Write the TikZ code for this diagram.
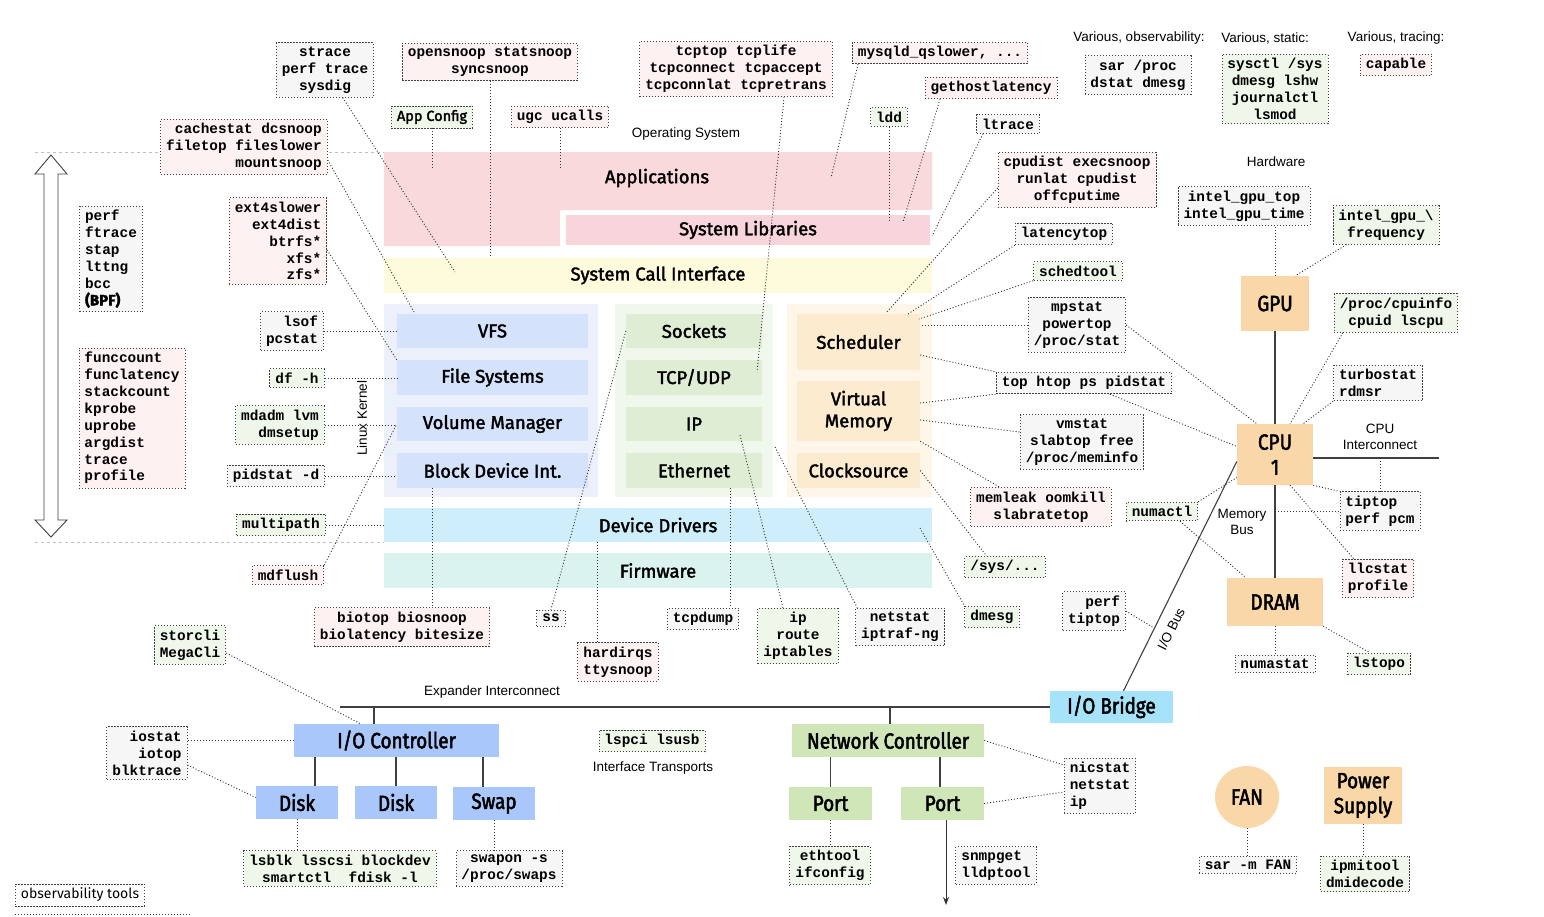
\documentclass[tikz,border=0pt]{standalone}
\usepackage{fontspec}
\setmainfont{Liberation Sans}
\newfontfamily\monofont{Liberation Mono}
\newfontfamily\lblfont[FakeBold=2]{Fira Sans}
\newfontfamily\hwfont[FakeStretch=0.86,FakeBold=2.2]{Fira Sans}
\usetikzlibrary{shapes.geometric,arrows.meta}
\definecolor{appsc}{HTML}{FAD9DC}
\definecolor{libc}{HTML}{F8D5DA}
\definecolor{sysc}{HTML}{FEFADC}
\definecolor{kpan}{HTML}{EBF0FB}
\definecolor{kbox}{HTML}{D4E2FB}
\definecolor{npan}{HTML}{F0F7EC}
\definecolor{nbox}{HTML}{E0EDD5}
\definecolor{spanc}{HTML}{FEF7E9}
\definecolor{sbox}{HTML}{FCEBCF}
\definecolor{drvc}{HTML}{CFEEFB}
\definecolor{fwc}{HTML}{DAF3EF}
\definecolor{hwc}{HTML}{FAD7A8}
\definecolor{bridgec}{HTML}{A6E3FB}
\definecolor{ioc}{HTML}{A9C7FA}
\definecolor{netc}{HTML}{D1E6B8}
\definecolor{tgray}{HTML}{F6F6F6}
\definecolor{tpink}{HTML}{FDF1F1}
\definecolor{tgreen}{HTML}{EEF7EA}
\tikzset{
  tool/.style={draw=black!75, dash pattern=on 1.1pt off 1.9pt, line width=0.9pt,
    inner xsep=5.5pt, inner ysep=4pt, align=center,
    font=\monofont\bfseries\fontsize{14.4}{16.9}\selectfont},
  tg/.style={tool, fill=tgray},
  tp/.style={tool, fill=tpink},
  tgr/.style={tool, fill=tgreen},
  conn/.style={draw=black!80, dash pattern=on 1pt off 2pt, line width=0.9pt},
  layer/.style={inner sep=0pt, align=center, font=\lblfont\fontsize{18.5}{22}\selectfont},
  hwbox/.style={inner sep=0pt, align=center, font=\hwfont\fontsize{22}{25}\selectfont},
  bus/.style={draw=black!75, line width=1.3pt},
  note/.style={align=center, font=\fontsize{13.5}{15.5}\selectfont}
}
\begin{document}
\begin{tikzpicture}[x=1pt,y=-1pt]
\useasboundingbox (0,0) rectangle (1544,916);
\fill[white] (0,0) rectangle (1544,916);

% dashed guide lines and big arrow
\draw[black!25, dashed, line width=0.8pt] (35,152) -- (384,152);
\draw[black!25, dashed, line width=0.8pt] (35,542) -- (384,542);
\draw[black!75, fill=white, line width=0.9pt] (51,155) -- (67,174) -- (58,174) -- (58,520) -- (67,520) -- (51,537) -- (35,520) -- (44,520) -- (44,174) -- (35,174) -- cycle;

% operating system layers
\fill[appsc] (384,152) -- (932,152) -- (932,210) -- (560,210) -- (560,246) -- (384,246) -- cycle;
\node[layer] (apps) at (657,178) {Applications};
\node[layer, fill=libc, minimum width=364pt, minimum height=30pt] (syslib) at (748,230) {System Libraries};
\node[layer, fill=sysc, minimum width=548pt, minimum height=35pt] (syscall) at (658,275.5) {System Call Interface};

\node[fill=kpan, minimum width=214pt, minimum height=193pt, inner sep=0pt] (kpanel) at (491,400.5) {};
\node[fill=npan, minimum width=158pt, minimum height=193pt, inner sep=0pt] (npanel) at (694,400.5) {};
\node[fill=spanc, minimum width=145pt, minimum height=193pt, inner sep=0pt] (spanel) at (859.5,400.5) {};

\node[layer, fill=kbox, minimum width=191pt, minimum height=34pt] (vfs) at (492.5,331) {VFS};
\node[layer, fill=kbox, minimum width=191pt, minimum height=35pt] (fs) at (492.5,377.5) {File Systems};
\node[layer, fill=kbox, minimum width=191pt, minimum height=34pt] (volm) at (492.5,424) {Volume Manager};
\node[layer, fill=kbox, minimum width=191pt, minimum height=35pt] (bdi) at (492.5,470.5) {Block Device Int.};

\node[layer, fill=nbox, minimum width=136pt, minimum height=34pt] (sockets) at (694,331) {Sockets};
\node[layer, fill=nbox, minimum width=136pt, minimum height=35pt] (tcp) at (694,377.5) {TCP/UDP};
\node[layer, fill=nbox, minimum width=136pt, minimum height=34pt] (ipl) at (694,424) {IP};
\node[layer, fill=nbox, minimum width=136pt, minimum height=35pt] (eth) at (694,470.5) {Ethernet};

\node[layer, fill=sbox, minimum width=123pt, minimum height=56pt] (sched) at (858.5,342) {Scheduler};
\node[layer, fill=sbox, minimum width=123pt, minimum height=60pt] (vmem) at (858.5,411) {Virtual\\Memory};
\node[layer, fill=sbox, minimum width=123pt, minimum height=35pt] (clock) at (858.5,470.5) {Clocksource};

\node[layer, fill=drvc, minimum width=548pt, minimum height=34pt] (drivers) at (658,525) {Device Drivers};
\node[layer, fill=fwc, minimum width=548pt, minimum height=35pt] (firmware) at (658,570.5) {Firmware};

% notes
\node[note] (os) at (686,134) {Operating System};
\node[note, rotate=90] (lk) at (362,418) {Linux Kernel};
\node[note] (hwlbl) at (1276,162) {Hardware};
\node[note] (vobs) at (1139,38) {Various, observability:};
\node[note] (vstat) at (1265,38) {Various, static:};
\node[note] (vtrace) at (1396,38) {Various, tracing:};
\node[note] (cpuic) at (1380,437) {CPU\\Interconnect};
\node[note] (membus) at (1242,522) {Memory\\Bus};
\node[note] (expic) at (492,692) {Expander Interconnect};
\node[note] (ift) at (653,768) {Interface Transports};
\node[note, rotate=63.6] (iobus) at (1171,629) {I/O Bus};

% hardware
\node[hwbox, fill=hwc, minimum width=68pt, minimum height=55pt] (gpu) at (1275,303.5) {GPU};
\node[hwbox, fill=hwc, minimum width=76pt, minimum height=61pt] (cpu) at (1275,454.5) {CPU\\1};
\node[hwbox, fill=hwc, minimum width=96pt, minimum height=48pt] (dram) at (1275,602) {DRAM};
\node[hwbox, fill=bridgec, minimum width=123pt, minimum height=32pt] (iobridge) at (1111.5,707) {I/O Bridge};
\node[hwbox, fill=ioc, minimum width=205pt, minimum height=33pt] (ioctl) at (396.5,740.5) {I/O Controller};
\node[hwbox, fill=ioc, minimum width=82pt, minimum height=33pt] (disk1) at (297,802.5) {Disk};
\node[hwbox, fill=ioc, minimum width=82pt, minimum height=33pt] (disk2) at (396,802.5) {Disk};
\node[hwbox, fill=ioc, minimum width=82pt, minimum height=33pt] (swap) at (494,803.5) {Swap};
\node[hwbox, fill=netc, minimum width=192pt, minimum height=33pt] (netctl) at (888,740.5) {Network Controller};
\node[hwbox, fill=netc, minimum width=83pt, minimum height=33pt] (port1) at (830.5,803.5) {Port};
\node[hwbox, fill=netc, minimum width=83pt, minimum height=33pt] (port2) at (942.5,803.5) {Port};
\node[hwbox, ellipse, fill=hwc, minimum width=64pt, minimum height=62pt] (fan) at (1247,797) {FAN};
\node[hwbox, fill=hwc, minimum width=78pt, minimum height=57pt] (psu) at (1363,795.5) {Power\\Supply};

% tool boxes
\node[tg] (strace) at (325,70) {strace\\perf trace\\sysdig};
\node[tp] (opensnoop) at (490,62) {opensnoop statsnoop\\syncsnoop};
\node[tp] (tcptop) at (736,69) {tcptop tcplife\\tcpconnect tcpaccept\\tcpconnlat tcpretrans};
\node[tp] (mysqld) at (940,53) {mysqld\_qslower, ...};
\node[tp] (gethost) at (991,88) {gethostlatency};
\node[tgr] (ldd) at (889,117) {ldd};
\node[tg] (ltrace) at (1008,124) {ltrace};
\node[tgr, font=\lblfont\fontsize{14.5}{16}\selectfont] (appconfig) at (432,117) {App Config};
\node[tp] (ugc) at (560,117) {ugc ucalls};
\node[tp, align=right] (cachestat) at (244,147) {cachestat dcsnoop\\filetop fileslower\\mountsnoop};
\node[tp, align=right] (ext4) at (278,241) {ext4slower\\ext4dist\\btrfs*\\xfs*\\zfs*};
\node[tg, align=left] (perf) at (111,259) {perf\\ftrace\\stap\\lttng\\bcc\\{\lblfont\fontsize{15}{16.9}\selectfont(BPF)}};
\node[tp, align=left] (funccount) at (132,418) {funccount\\funclatency\\stackcount\\kprobe\\uprobe\\argdist\\trace\\profile};
\node[tg, align=right] (lsof) at (292,331) {lsof\\pcstat};
\node[tgr] (dfh) at (297,378) {df -h};
\node[tgr, align=right] (mdadm) at (280,425) {mdadm lvm\\dmsetup};
\node[tg] (pidstat) at (276,476) {pidstat -d};
\node[tgr] (multipath) at (281,525) {multipath};
\node[tp] (mdflush) at (288,575) {mdflush};
\node[tp] (cpudist) at (1077,180) {cpudist execsnoop\\runlat cpudist\\offcputime};
\node[tg] (latencytop) at (1064,234) {latencytop};
\node[tgr] (schedtool) at (1078,271) {schedtool};
\node[tg] (mpstat) at (1077,325) {mpstat\\powertop\\/proc/stat};
\node[tg] (tophtop) at (1084,383) {top htop ps pidstat};
\node[tg] (vmstat) at (1082,442) {vmstat\\slabtop free\\/proc/meminfo};
\node[tp] (memleak) at (1041,507) {memleak oomkill\\slabratetop};
\node[tgr] (sys) at (1005,567) {/sys/...};
\node[tgr] (dmesg) at (992,617) {dmesg};
\node[tg] (netstat) at (900,627) {netstat\\iptraf-ng};
\node[tgr] (iproute) at (798,636) {ip\\route\\iptables};
\node[tg] (tcpdump) at (703,619) {tcpdump};
\node[tp, align=left] (hardirqs) at (618,662) {hardirqs\\ttysnoop};
\node[tg] (ss) at (551,618) {ss};
\node[tp] (biotop) at (402,627) {biotop biosnoop\\biolatency bitesize};
\node[tgr, align=left] (storcli) at (190,645) {storcli\\MegaCli};
\node[tg, align=right] (iostat) at (147,753) {iostat\\iotop\\blktrace};
\node[tgr] (lsblk) at (340,868.5) {lsblk lsscsi blockdev\\smartctl~~fdisk -l};
\node[tg] (swapon) at (509,868.5) {swapon -s\\/proc/swaps};
\node[tgr] (lspci) at (652,741) {lspci lsusb};
\node[tgr] (ethtool) at (830,865.5) {ethtool\\ifconfig};
\node[tg, align=left] (snmpget) at (996,865.5) {snmpget\\lldptool};
\node[tg, align=left] (nicstat) at (1100,786) {nicstat\\netstat\\ip};
\node[tg, align=right] (perftiptop) at (1094,611) {perf\\tiptop};
\node[tgr] (numactl) at (1162,511.5) {numactl};
\node[tg] (sarproc) at (1138,75) {sar /proc\\dstat dmesg};
\node[tgr] (sysctl) at (1275,89) {sysctl /sys\\dmesg lshw\\journalctl\\lsmod};
\node[tp] (capable) at (1396,65) {capable};
\node[tg] (intelgputop) at (1244,206) {intel\_gpu\_top\\intel\_gpu\_time};
\node[tgr] (intelgpufreq) at (1386,225) {intel\_gpu\_\textbackslash\\frequency};
\node[tgr] (cpuinfo) at (1396,313) {/proc/cpuinfo\\cpuid lscpu};
\node[tg, align=left] (turbostat) at (1378,383) {turbostat\\rdmsr};
\node[tg, align=left] (tiptop) at (1380,511) {tiptop\\perf pcm};
\node[tp, align=left] (llcstat) at (1378,578.5) {llcstat\\profile};
\node[tg] (numastat) at (1275,664) {numastat};
\node[tgr] (lstopo) at (1379,664) {lstopo};
\node[tg] (sarfan) at (1248,865) {sar -m FAN};
\node[tgr] (ipmitool) at (1365,874) {ipmitool\\dmidecode};
\node[tool, fill=white, font=\fontspec{Fira Sans}\fontsize{14}{16}\selectfont] (legend) at (80,895) {observability tools};
\draw[conn] (15,914) -- (190,914);

% hardware buses
\draw[bus] (gpu.south) -- (cpu.north);
\draw[bus] (cpu.south) -- (dram.north);
\coordinate (ci) at (1439,458);
\draw[bus] (cpu.east |- ci) -- (ci);
\draw[bus, line width=1.1pt] ([yshift=-7pt]cpu.west) -- ([xshift=12pt]iobridge.north);
\coordinate (ex) at (340,707);
\draw[bus] (iobridge.west) -- (ex |- iobridge.west);
\coordinate (v1) at (374,707);
\coordinate (v2) at (890,707);
\draw[bus] (v1) -- (v1 |- ioctl.north);
\draw[bus] (v2) -- (v2 |- netctl.north);
\draw[bus] ([xshift=18pt]disk1.north) -- ([xshift=18pt]disk1.north |- ioctl.south);
\draw[bus] (disk2.north) -- (disk2.north |- ioctl.south);
\draw[bus] ([xshift=-11pt]swap.north) -- ([xshift=-11pt]swap.north |- ioctl.south);
\draw[bus] (port1.north) -- (port1.north |- netctl.south);
\draw[bus] ([xshift=-2.5pt]port2.north) -- ([xshift=-2.5pt]port2.north |- netctl.south);
\coordinate (ae) at (946,905);
\draw[black!80, line width=1pt, -{Stealth[length=8pt,width=6pt]}] (port2.south -| ae) -- (ae);

% connectors: applications / libraries / syscalls
\coordinate (s1) at (455,272);
\draw[conn] (strace) -- (s1);
\draw[conn] (opensnoop.south) -- (opensnoop.south |- syscall.north);
\coordinate (a1) at (432,168);
\draw[conn] (appconfig.south) -- (appconfig.south |- a1);
\draw[conn] (ugc.south) -- (ugc.south |- a1);
\coordinate (t1) at (757,372);
\draw[conn] ([xshift=48pt]tcptop.south) -- (t1);
\coordinate (m1) at (831,178);
\draw[conn] ([xshift=-82pt]mysqld.south) -- (m1);
\coordinate (g1) at (903,222);
\draw[conn] ([xshift=-51pt]gethost.south) -- (g1);
\coordinate (l1) at (889,220);
\draw[conn] (ldd.south) -- (ldd.south |- l1);
\coordinate (l2) at (932,236);
\draw[conn] ([xshift=-25pt]ltrace.south) -- (l2);

% connectors: storage stack
\coordinate (c1) at (414,312);
\draw[conn] ([yshift=-13pt]cachestat.east) -- (c1);
\draw[conn] ([yshift=-9pt]ext4.east) -- (fs.north west);
\draw[conn] (lsof.east) -- (lsof.east -| vfs.west);
\draw[conn] (dfh.east) -- (dfh.east -| fs.west);
\draw[conn] (mdadm.east) -- (mdadm.east -| volm.west);
\draw[conn] (pidstat.east) -- (pidstat.east -| bdi.west);
\draw[conn] (multipath.east) -- (multipath.east -| drivers.west);
\draw[conn] (mdflush.north east) -- (volm.west);
\coordinate (b1) at (432,488);
\draw[conn] (b1) -- (b1 |- biotop.north);

% connectors: network stack
\draw[conn] (sockets.west) -- (ss.north);
\coordinate (h1) at (597,542);
\draw[conn] (h1) -- (h1 |- hardirqs.north);
\coordinate (e1) at (730,488);
\draw[conn] (e1) -- (e1 |- tcpdump.north);
\coordinate (i1) at (740,435);
\draw[conn] (i1) -- ([xshift=-15pt]iproute.north);
\coordinate (n1) at (775,447);
\draw[conn] (n1) -- ([xshift=2pt]netstat.north west);

% connectors: scheduler / memory
\coordinate (d1) at (920,528);
\draw[conn] (d1) -- (dmesg.north west);
\draw[conn] (clock.east) -- ([xshift=22pt]sys.north west);
\draw[conn] (vmem.south east) -- ([xshift=30pt]memleak.north west);
\draw[conn] ([yshift=-9pt]vmem.east) -- ([yshift=10pt]vmstat.west);
\draw[conn] ([yshift=8pt]vmem.east) -- (tophtop.south west);
\draw[conn] ([yshift=-13pt]sched.east) -- (tophtop.north west);
\draw[conn] ([xshift=26pt]tophtop.south) -- ([yshift=8pt]cpu.west);
\draw[conn] (mpstat.west) -- (mpstat.west -| sched.east);
\draw[conn] (mpstat.east) -- ([xshift=-18pt]cpu.north);
\coordinate (sc0) at (886,313);
\coordinate (sc1) at (908,314);
\coordinate (sc2) at (919,319);
\draw[conn] ([yshift=-8pt]cpudist.west) -- (sc0);
\draw[conn] (latencytop.south west) -- (sc1);
\draw[conn] (schedtool.south west) -- (sc2);

% connectors: hardware
\draw[conn] (gpu.north) -- (gpu.north |- intelgputop.south);
\draw[conn] ([xshift=14pt]intelgpufreq.south west) -- ([xshift=-14pt]gpu.north east);
\draw[conn] ([xshift=9pt]cpuinfo.south west) -- ([xshift=15pt]cpu.north);
\draw[conn] (turbostat.south west) -- ([xshift=-10pt]cpu.north east);
\coordinate (mb) at (1275,511);
\draw[conn] (mb) -- (mb -| tiptop.west);
\draw[conn] (cpu.south east) -- (tiptop.north west);
\coordinate (ic) at (1380,458);
\draw[conn] (ic) -- (ic |- tiptop.north);
\draw[conn] ([xshift=15pt]cpu.south) -- ([xshift=12pt]llcstat.north west);
\draw[conn] (dram.south east) -- ([xshift=-9pt]lstopo.north);
\draw[conn] (dram.south) -- (numastat.north);
\draw[conn] (numactl.north east) -- ([yshift=-23pt]cpu.west);
\draw[conn] ([xshift=18pt]numactl.south) -- ([xshift=-29pt]dram.north);
\coordinate (pb) at (1154,628);
\draw[conn] (perftiptop.east) -- (pb);

% connectors: devices
\draw[conn] ([yshift=-8pt]storcli.east) -- ([xshift=-36pt]ioctl.north);
\draw[conn] (ioctl.west) -- (ioctl.west -| iostat.east);
\draw[conn] ([yshift=-12pt]iostat.east) -- ([yshift=5pt]disk1.west);
\draw[conn] (disk1.south) -- (disk1.south |- lsblk.north);
\draw[conn] (swap.south) -- (swap.south |- swapon.north);
\draw[conn] (netctl.east) -- ([yshift=21pt]nicstat.west);
\draw[conn] (port2.east) -- ([yshift=-6pt]nicstat.west);
\draw[conn] (port1.south) -- (port1.south |- ethtool.north);
\draw[conn] (fan.south) -- (fan.south |- sarfan.north);
\draw[conn] (psu.south) -- (psu.south |- ipmitool.north);
\end{tikzpicture}
\end{document}
